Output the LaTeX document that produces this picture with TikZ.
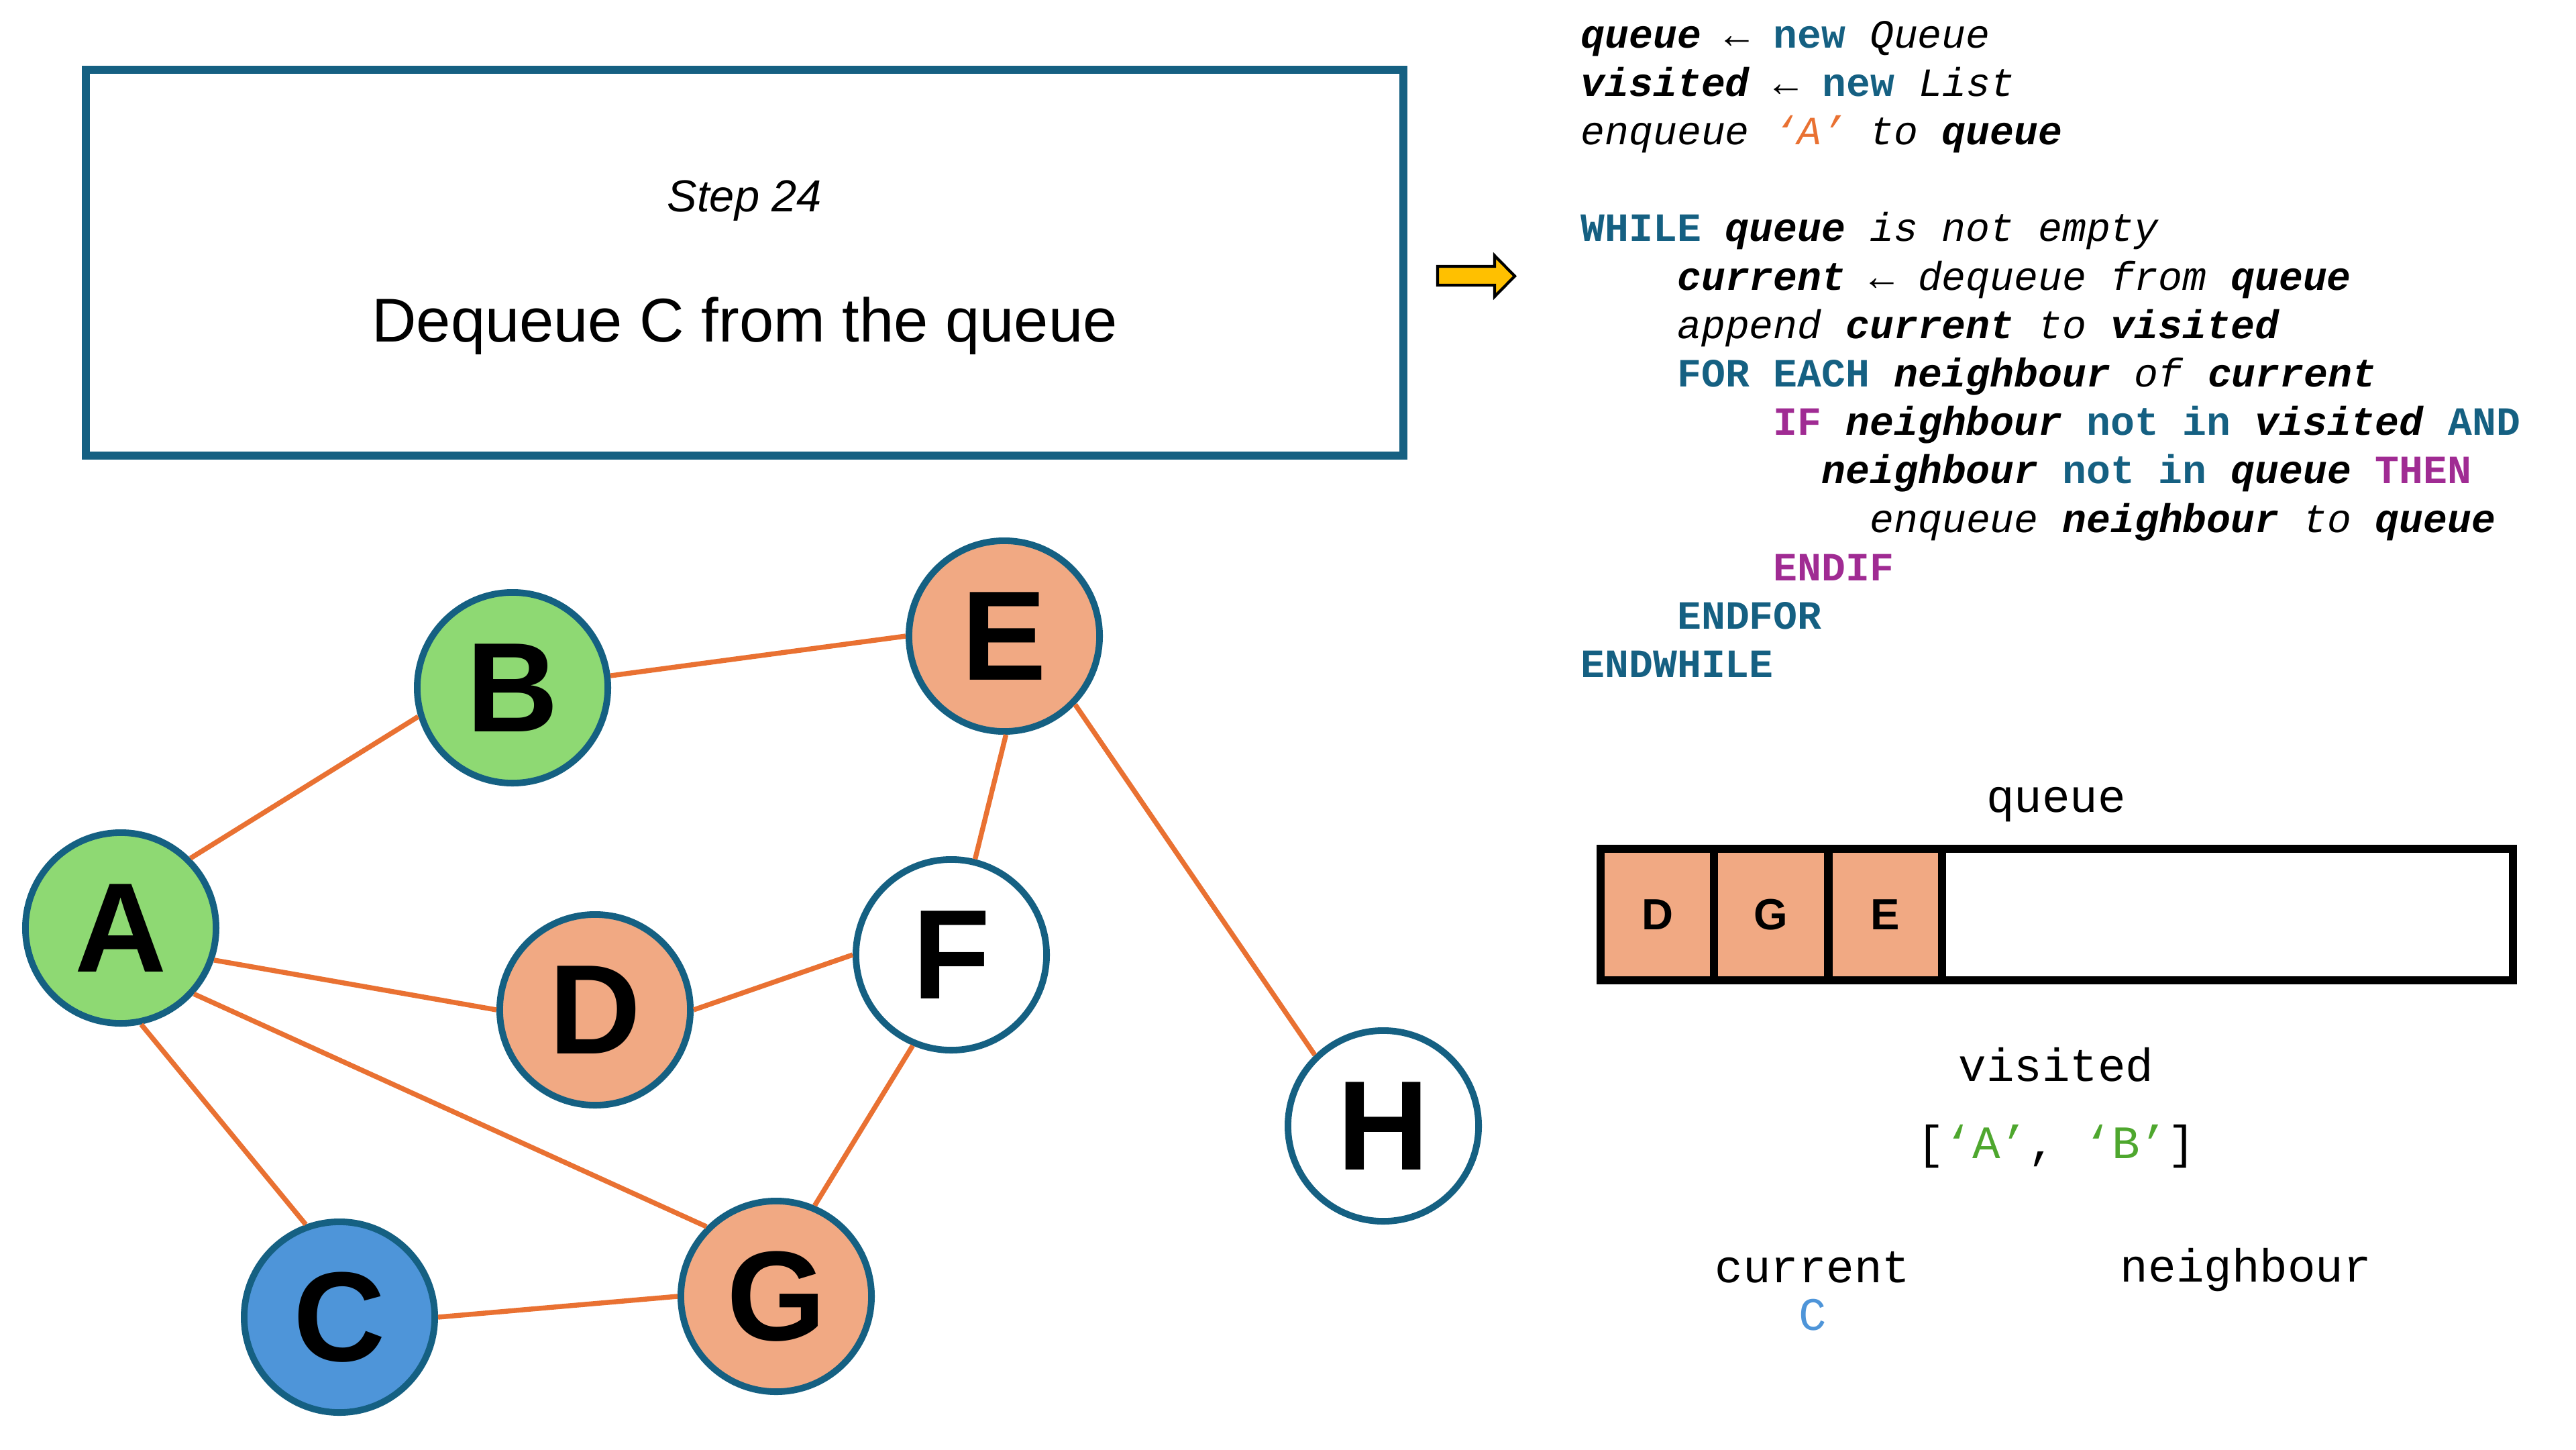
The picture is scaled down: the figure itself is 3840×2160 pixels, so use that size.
\documentclass[tikz,border=0pt]{standalone}
\usepackage{fontspec}
\setmainfont{Liberation Sans}
\setmonofont{Liberation Mono}
\definecolor{kwblue}{HTML}{156082}
\definecolor{kwmag}{HTML}{A02B93}
\definecolor{edgeor}{HTML}{E97132}
\definecolor{fillgreen}{HTML}{8ED973}
\definecolor{fillorange}{HTML}{F1A983}
\definecolor{fillblue}{HTML}{4E95D9}
\definecolor{txtgreen}{HTML}{4EA72E}
\definecolor{arrowyel}{HTML}{FFC000}
\newcommand\cKw[1]{\textbf{\textcolor{kwblue}{#1}}}
\newcommand\cMg[1]{\textbf{\textcolor{kwmag}{#1}}}
\newcommand\cVar[1]{\textbf{\textit{#1}}}
\newcommand\cIt[1]{\textit{#1}}
\newcommand\cX[1]{2356+#1*35.9}
\newcommand\cY[1]{71+72.2*#1}
\tikzset{
  gnode/.style={circle, draw=kwblue, line width=2.8pt, minimum size=2.84cm, inner sep=0pt,
    font=\fontsize{54}{54}\selectfont\bfseries},
  gedge/.style={draw=edgeor, line width=2.1pt},
  codeln/.style={anchor=base west, inner sep=0pt, font=\fontsize{17.0}{20}\selectfont\ttfamily},
  monolbl/.style={anchor=base, inner sep=0pt, font=\fontsize{19.7}{22}\selectfont\ttfamily},
  qcell/.style={draw=black, line width=3.4pt, fill=fillorange, minimum width=1.69cm, minimum height=1.96cm,
    inner sep=0pt, font=\fontsize{18.5}{18.5}\selectfont\bfseries},
}
\begin{document}
\begin{tikzpicture}[x=0.01cm, y=-0.01cm]
\useasboundingbox (0,0) rectangle (3840,2160);
\fill[white] (0,0) rectangle (3840,2160);

% step box
\node[draw=kwblue, line width=3.4pt, minimum width=19.62cm, minimum height=5.75cm, inner sep=0pt] (stepbox) at (1110,391.5) {};
\node[anchor=base, inner sep=0pt, font=\fontsize{19}{19}\selectfont\itshape] (steplbl) at (1110,315) {Step 24};
\node[anchor=base, inner sep=0pt, font=\fontsize{26.2}{27}\selectfont] (stepdesc) at (1110,509) {Dequeue C from the queue};

% yellow arrow
\draw[fill=arrowyel, draw=black, line width=1.2pt, line join=miter]
  (2143,397) -- (2228,397) -- (2228,381) -- (2258,411.5) -- (2228,442) -- (2228,425) -- (2143,425) -- cycle;

% node centres
\coordinate (cA) at (180,1383);
\coordinate (cB) at (764,1025);
\coordinate (cC) at (506,1963);
\coordinate (cD) at (887,1505);
\coordinate (cE) at (1497,948);
\coordinate (cF) at (1418,1423);
\coordinate (cG) at (1157,1932);
\coordinate (cH) at (2062,1678);

% graph nodes
\node[gnode, fill=fillgreen] (A) at (cA) {A};
\node[gnode, fill=fillgreen] (B) at (cB) {B};
\node[gnode, fill=fillblue] (C) at (cC) {C};
\node[gnode, fill=fillorange] (D) at (cD) {D};
\node[gnode, fill=fillorange] (E) at (cE) {E};
\node[gnode, fill=white] (F) at (cF) {F};
\node[gnode, fill=fillorange] (G) at (cG) {G};
\node[gnode, fill=white] (H) at (cH) {H};

% graph edges
\draw[gedge] (A.45) -- (B.197);
\draw[gedge] (B.7) -- (E.180);
\draw[gedge] (A.-19) -- (D.180);
\draw[gedge] (A.-42) -- (G.135);
\draw[gedge] (A.-78) -- (C.110);
\draw[gedge] (D.0) -- (F.180);
\draw[gedge] (E.-89) -- (F.76);
\draw[gedge] (E.-44) -- (H.134);
\draw[gedge] (F.-113) -- (G.67);
\draw[gedge] (C.0) -- (G.180);

% pseudocode
\node[codeln] (l1) at ({\cX{0}},{\cY{0}}) {\cVar{queue} ← \cKw{new} \cIt{Queue}};
\node[codeln] (l2) at ({\cX{0}},{\cY{1}}) {\cVar{visited} ← \cKw{new} \cIt{List}};
\node[codeln] (l3) at ({\cX{0}},{\cY{2}}) {\cIt{enqueue} \textit{\textcolor{edgeor}{‘A’}} \cIt{to} \cVar{queue}};
\node[codeln] (l5) at ({\cX{0}},{\cY{4}}) {\cKw{WHILE} \cVar{queue} \cIt{is not empty}};
\node[codeln] (l6) at ({\cX{4}},{\cY{5}}) {\cVar{current} ← \cIt{dequeue from} \cVar{queue}};
\node[codeln] (l7) at ({\cX{4}},{\cY{6}}) {\cIt{append} \cVar{current} \cIt{to} \cVar{visited}};
\node[codeln] (l8) at ({\cX{4}},{\cY{7}}) {\cKw{FOR EACH} \cVar{neighbour} \cIt{of} \cVar{current}};
\node[codeln] (l9) at ({\cX{8}},{\cY{8}}) {\cMg{IF} \cVar{neighbour} \cKw{not in} \cVar{visited} \cKw{AND}};
\node[codeln] (l10) at ({\cX{10}},{\cY{9}}) {\cVar{neighbour} \cKw{not in} \cVar{queue} \cMg{THEN}};
\node[codeln] (l11) at ({\cX{12}},{\cY{10}}) {\cIt{enqueue} \cVar{neighbour} \cIt{to} \cVar{queue}};
\node[codeln] (l12) at ({\cX{8}},{\cY{11}}) {\cMg{ENDIF}};
\node[codeln] (l13) at ({\cX{4}},{\cY{12}}) {\cKw{ENDFOR}};
\node[codeln] (l14) at ({\cX{0}},{\cY{13}}) {\cKw{ENDWHILE}};

% queue
\node[monolbl] (queuelbl) at (3065,1210) {queue};
\node[draw=black, line width=3.4pt, minimum width=13.6cm, minimum height=1.96cm, inner sep=0pt] (qbox) at (3066,1363) {};
\node[qcell] (q1) at (2470.5,1363) {D};
\node[qcell] (q2) at (2640,1363) {G};
\node[qcell] (q3) at (2810.5,1363) {E};

% visited
\node[monolbl] (visitedlbl) at (3065,1611) {visited};
\node[monolbl] (visitedlist) at (3065,1726) {[\textcolor{txtgreen}{‘A’}, \textcolor{txtgreen}{‘B’}]};

% current / neighbour
\node[monolbl] (currentlbl) at (2702,1911) {current};
\node[monolbl] (neighlbl) at (3348,1910) {neighbour};
\node[monolbl, text=fillblue] (currentval) at (2702,1982) {C};
\end{tikzpicture}
\end{document}
